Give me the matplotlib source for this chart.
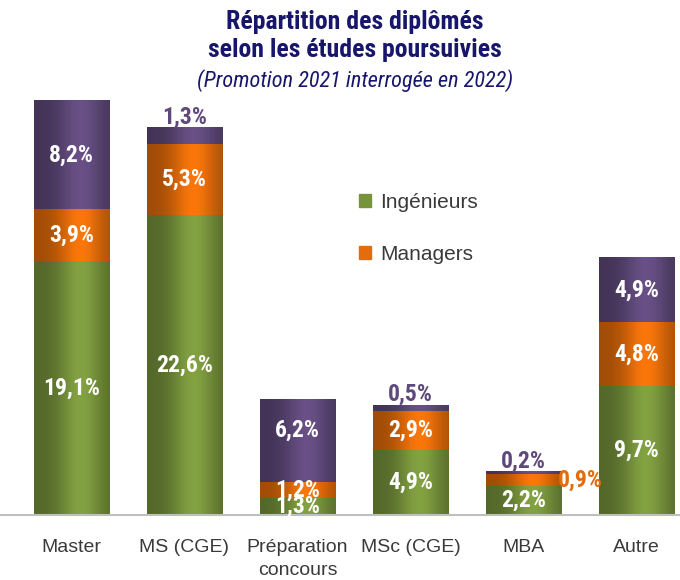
import numpy as np
import matplotlib
matplotlib.use("Agg")
import matplotlib.pyplot as plt
from matplotlib.patches import Patch
from matplotlib.colors import to_rgb

# data (percent)
categories = ["Master", "MS (CGE)", "Préparation\nconcours", "MSc (CGE)", "MBA", "Autre"]
ingenieurs = [19.1, 22.6, 1.3, 4.9, 2.2, 9.7]
managers = [3.9, 5.3, 1.2, 2.9, 0.9, 4.8]
autres = [8.2, 1.3, 6.2, 0.5, 0.2, 4.9]

green = "#77933C"
orange = "#E46C0A"
purple = "#5F497A"
navy = "#17166A"
grey_txt = "#3A3A3A"

narrow = ["Roboto Condensed", "DejaVu Sans"]
arial = ["Liberation Sans", "DejaVu Sans"]

fig = plt.figure(figsize=(6.8, 5.8), dpi=100)
ax = fig.add_axes([0.022, 0.112, 0.977, 0.779])

x = np.arange(len(categories))
w = 0.67
b1 = ax.bar(x, ingenieurs, w, color=green, zorder=2)
b2 = ax.bar(x, managers, w, bottom=ingenieurs, color=orange, zorder=2)
bot3 = np.array(ingenieurs) + np.array(managers)
b3 = ax.bar(x, autres, w, bottom=bot3, color=purple, zorder=2)


# cylinder-like shading on every bar
def shade(col):
    t = np.linspace(0, 1, 60)
    f = 0.70 + 0.40 * np.exp(-((t - 0.62) / 0.30) ** 2)
    rgb = np.clip(np.outer(f, to_rgb(col)), 0, 1)
    return rgb[np.newaxis, :, :]


for cont, col in [(b1, green), (b2, orange), (b3, purple)]:
    g = shade(col)
    for r in cont:
        x0, y0 = r.get_x(), r.get_y()
        im = ax.imshow(g, extent=[x0, x0 + r.get_width(), y0, y0 + r.get_height()],
                       aspect="auto", zorder=3, interpolation="bilinear")
        im.set_clip_path(r)

ax.set_xlim(-0.5, 5.38)
ax.set_ylim(0, 34)
for s in ax.spines.values():
    s.set_visible(False)
ax.axhline(0, color="#BFBFBF", lw=1.5, zorder=4, clip_on=False, xmin=-0.03)
ax.set_yticks([])
ax.set_xticks(x)
ax.set_xticklabels(categories, fontsize=14, color=grey_txt, family=arial, linespacing=1.45)
ax.tick_params(axis="x", length=0, pad=17)


def pct(v):
    return f"{v:.1f}%".replace(".", ",")


# labels inside bars
lab = dict(ha="center", va="center", color="white", fontsize=17, fontweight="bold",
           family=narrow, zorder=5)
outside = {(1, 2), (3, 2), (4, 2), (4, 1)}
for i in range(len(x)):
    segs = [(0, ingenieurs[i]), (ingenieurs[i], managers[i]), (bot3[i], autres[i])]
    for k, (bottom, val) in enumerate(segs):
        if (i, k) in outside:
            continue
        dy = 0.8 if (i, k) == (2, 2) else 0
        ax.text(x[i], bottom + val / 2 + dy, pct(val), **lab)

# small values written outside
tops = bot3 + np.array(autres)
for i in [1, 3, 4]:
    ax.text(x[i], tops[i] - 0.1, pct(autres[i]), ha="center", va="bottom",
            color=purple, fontsize=17, fontweight="bold", family=narrow, zorder=5)
ax.text(x[4] + 0.5, ingenieurs[4] + managers[4] / 2, pct(managers[4]),
        ha="center", va="center", color=orange, fontsize=17, fontweight="bold",
        family=narrow, zorder=5)

fig.text(0.522, 0.962, "Répartition des diplômés", ha="center", va="center",
         fontsize=18.5, fontweight="bold", color=navy, family=narrow)
fig.text(0.522, 0.913, "selon les études poursuivies", ha="center", va="center",
         fontsize=18.5, fontweight="bold", color=navy, family=narrow)
fig.text(0.522, 0.861, "(Promotion 2021 interrogée en 2022)", ha="center", va="center",
         fontsize=16, style="italic", color=navy, family=narrow)

handles = [Patch(color=green, label="Ingénieurs"), Patch(color=orange, label="Managers")]
fig.legend(handles=handles, loc="upper left", bbox_to_anchor=(0.50, 0.70), frameon=False,
           handlelength=0.6, handleheight=0.6, handletextpad=0.45, labelspacing=1.6,
           prop={"family": arial, "size": 15}, labelcolor=grey_txt)

fig.savefig("out.png", dpi=100)
